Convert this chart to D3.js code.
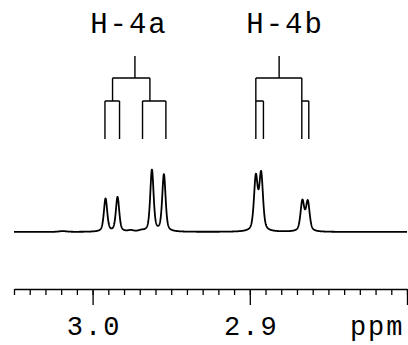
<!DOCTYPE html>
<html lang="en">
<head>
  <meta charset="UTF-8">
  <style>
    body { margin: 0; background: #fff; }
    .chart text { font-family: "Liberation Mono", "DejaVu Sans Mono", monospace; fill: #000; }
    .chart .title { font-size: 29px; letter-spacing: 2px; }
    .chart .tick text { font-size: 27px; letter-spacing: 2px; }
  </style>
</head>
<body>
  <svg class="chart"></svg>
  <script src="https://cdnjs.cloudflare.com/ajax/libs/d3/7.8.5/d3.min.js"></script>
  <script>
    // peak list (ppm, height, full width at half height in ppm)
    const peakPpm    = [2.99176, 2.98413, 2.96226, 2.95464, 2.89616, 2.89279, 2.86655, 2.86312, 2.9757, 2.9690, 3.0190]
    const peakHeight = [33, 34.5, 61.5, 57, 53.5, 56.5, 30, 29.5, 1.2, 1.0, 0.8]
    const peakWidth  = [0.00254, 0.00254, 0.00254, 0.00254, 0.0028, 0.0028, 0.0028, 0.0028, 0.004, 0.004, 0.006]

    // multiplet labels and splitting trees
    const multipletNames = ['H-4a', 'H-4b']
    const labelPpm   = [2.9775, 2.8782]
    const treeStem   = [2.97307, 2.88135]
    const treeMid    = [[2.98731, 2.96354], [2.89616, 2.86692]]
    const treeLeaves = [[[2.99214, 2.98286], [2.96824, 2.95337]],
                        [[2.89616, 2.89133], [2.86692, 2.86247]]]

    // axis
    const ppmDomain  = [3.05, 2.80]
    const majorTicks = [3.0, 2.9, 2.8]
    const majorLabels = ['3.0', '2.9', 'ppm']
    const minorTicks = d3.range(280, 306).map(d => d / 100)

    const chart = { width: 408, height: 345 }
    const eta = 0.5   // pseudo-Voigt mixing

    const x = d3.scaleLinear().domain(ppmDomain).range([14, 407])
    const y = d3.scaleLinear().domain([0, 70]).range([232, 162])

    const svg = d3.select('.chart')
      .attr('width', chart.width)
      .attr('height', chart.height)

    function lineShape(v, c, h, w) {
      const d = (v - c) / (w / 2)
      const lor = 1 / (1 + d * d)
      const gau = Math.exp(-Math.LN2 * d * d)
      return h * (eta * lor + (1 - eta) * gau)
    }

    const grid = d3.range(ppmDomain[1], ppmDomain[0] + 0.00005, 0.0001)
    const spectrum = grid.map(v => [v, d3.sum(peakPpm, (c, i) => lineShape(v, c, peakHeight[i], peakWidth[i]))])

    svg.append('path')
      .datum(spectrum)
      .attr('fill', 'none')
      .attr('stroke', '#000')
      .attr('stroke-width', 1.8)
      .attr('stroke-linejoin', 'round')
      .attr('d', d3.line().x(d => x(d[0])).y(d => y(d[1])))

    // splitting trees
    const lv = [56, 78, 101, 139]
    const tree = svg.append('g')
      .attr('fill', 'none')
      .attr('stroke', '#000')
      .attr('stroke-width', 1.4)

    multipletNames.forEach((name, i) => {
      const p = d3.path()
      p.moveTo(x(treeStem[i]), lv[0]); p.lineTo(x(treeStem[i]), lv[1])
      p.moveTo(x(treeMid[i][0]), lv[1]); p.lineTo(x(treeMid[i][1]), lv[1])
      treeMid[i].forEach((m, j) => {
        const leaves = treeLeaves[i][j]
        p.moveTo(x(m), lv[1]); p.lineTo(x(m), lv[2])
        p.moveTo(x(leaves[0]), lv[2]); p.lineTo(x(leaves[1]), lv[2])
        leaves.forEach(l => { p.moveTo(x(l), lv[2]); p.lineTo(x(l), lv[3]) })
      })
      tree.append('path').attr('d', p.toString())

      svg.append('text')
        .attr('class', 'title')
        .attr('x', x(labelPpm[i]) + 1)
        .attr('y', 33)
        .attr('text-anchor', 'middle')
        .text(name)
    })

    // ppm axis
    const axisY = 289
    svg.append('g')
      .attr('transform', `translate(0,${axisY})`)
      .call(d3.axisBottom(x).tickValues(minorTicks).tickSize(6).tickSizeOuter(0).tickFormat(''))
      .call(g => g.selectAll('line, path').attr('stroke-width', 1.3))

    svg.append('g')
      .attr('transform', `translate(0,${axisY})`)
      .call(d3.axisBottom(x).tickValues(majorTicks).tickSize(16).tickSizeOuter(0)
        .tickFormat((d, i) => majorLabels[i]))
      .call(g => g.select('.domain').remove())
      .call(g => g.selectAll('line').attr('stroke-width', 1.3))
      .call(g => g.selectAll('text')
        .attr('y', 46).attr('dy', 0)
        .attr('font-size', null).attr('font-family', null)
        .attr('text-anchor', (d, i) => i === 2 ? 'end' : 'middle')
        .attr('dx', (d, i) => i === 2 ? -3 : 1))
  </script>
</body>
</html>
